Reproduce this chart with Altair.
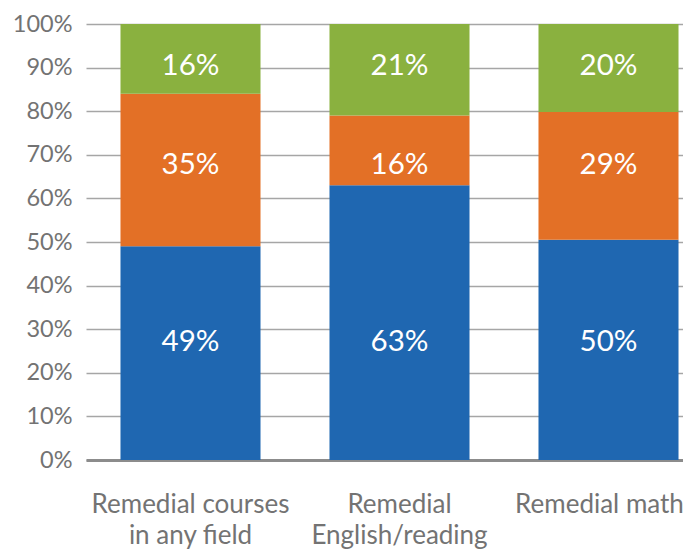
import altair as alt
import pandas as pd

categories = ["Remedial courses|in any field", "Remedial|English/reading", "Remedial math"]
series = ["Series 1", "Series 2", "Series 3"]  # bottom to top
series_colors = ["#1F67B1", "#E37026", "#8AB13F"]
blue_vals = [49, 63, 50]
orange_vals = [35, 16, 29]
green_vals = [16, 21, 20]
y_ticks = [0, 0.1, 0.2, 0.3, 0.4, 0.5, 0.6, 0.7, 0.8, 0.9, 1.0]

rows = []
for i, c in enumerate(categories):
    for j, (s, vals) in enumerate(zip(series, [blue_vals, orange_vals, green_vals])):
        rows.append({"category": c, "series": s, "idx": j, "value": vals[i]})
df = pd.DataFrame(rows)

FONT = "Lato"
GREY = "#737373"

base = alt.Chart(df).transform_joinaggregate(
    total="sum(value)", groupby=["category"]
).transform_calculate(
    pct="datum.value / datum.total"
).transform_stack(
    stack="pct", groupby=["category"], as_=["y0", "y1"], sort=[alt.SortField("idx", order="ascending")]
).transform_calculate(
    mid="(datum.y0 + datum.y1) / 2",
    lbl="format(datum.value, 'd') + '%'"
)

x_enc = alt.X(
    "category:N",
    sort=categories,
    scale=alt.Scale(range=[0, 627], paddingInner=0.33, paddingOuter=0.165),
    axis=alt.Axis(
        title=None,
        labelAngle=0,
        labelExpr="split(datum.label, '|')",
        labelFont=FONT,
        labelFontSize=26,
        labelColor=GREY,
        labelPadding=31,
        labelLineHeight=31,
        labelOffset={"condition": {"test": "datum.value == 'Remedial math'", "value": -9}, "value": 0},
        ticks=False,
        domainColor="#8C8C8C",
        domainWidth=3,
        grid=False,
        labelLimit=400,
    ),
)

bars = base.mark_bar().encode(
    x=x_enc,
    y=alt.Y(
        "y0:Q",
        scale=alt.Scale(domain=[0, 1], nice=False),
        axis=alt.Axis(
            title=None,
            values=y_ticks,
            format=".0%",
            labelFont=FONT,
            labelFontSize=23.5,
            labelColor=GREY,
            labelPadding=14,
            ticks=False,
            domain=False,
            grid=True,
            gridColor="#A6A6A6",
            gridWidth=1.5,
        ),
    ),
    y2="y1:Q",
    color=alt.Color("series:N", scale=alt.Scale(domain=series, range=series_colors), legend=None),
)

# labels sit at one common height per series (mean of segment midpoints), as in the reference
labels = base.transform_joinaggregate(
    label_y="mean(mid)", groupby=["series"]
).mark_text(
    font=FONT, fontSize=29.5, color="white", baseline="middle", align="center"
).encode(
    x=alt.X("category:N", sort=categories),
    y=alt.Y("label_y:Q"),
    text="lbl:N",
)

chart = alt.layer(bars, labels).properties(
    width=597,
    height=436,
    autosize=alt.AutoSizeParams(type="none"),
    padding={"left": 78, "top": 16, "right": 0, "bottom": 91},
).configure_view(stroke=None)

chart.save("out.html", embed_options={"renderer": "svg", "actions": False})
